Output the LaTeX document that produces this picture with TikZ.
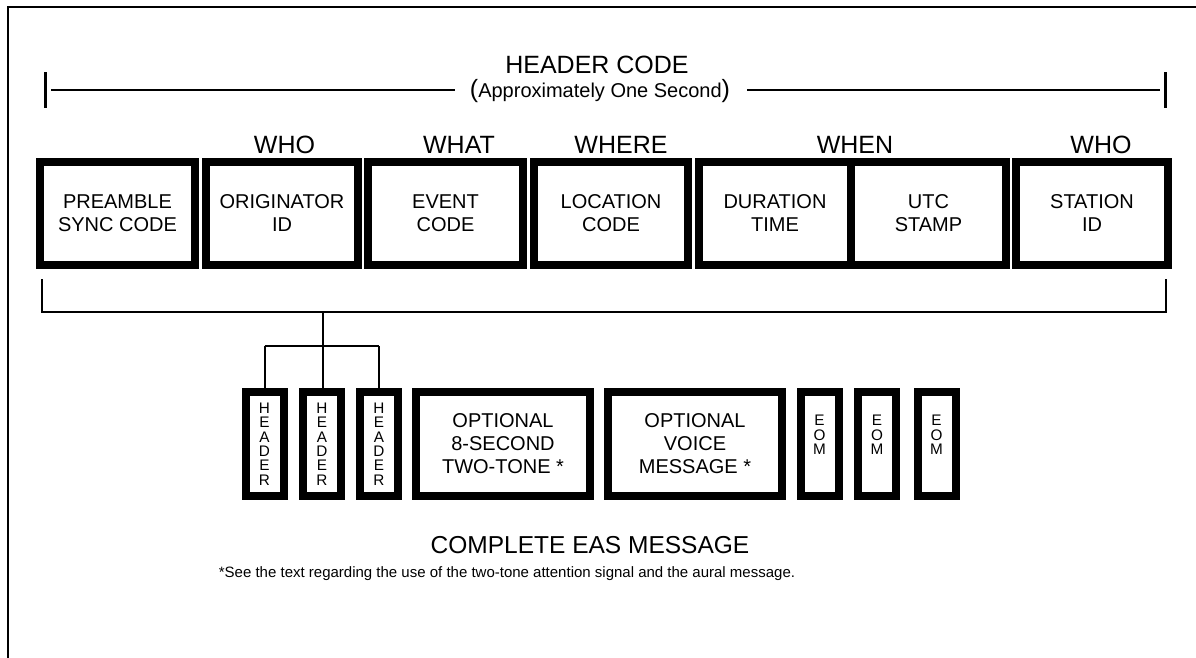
\documentclass[tikz,border=0pt]{standalone}
\usepackage{fontspec}
\setmainfont{Liberation Sans}
\begin{document}
\begin{tikzpicture}[x=1pt,y=-1pt,
  bigbox/.style={draw, line width=8pt, inner sep=0pt, align=center,
    font=\fontsize{20}{23}\selectfont},
  topbox/.style={bigbox, minimum height=103pt},
  lowbox/.style={bigbox, minimum height=104pt},
  slimbox/.style={lowbox, minimum width=38pt},
  vtext/.style={inner sep=0pt, align=center, font=\fontsize{15.3}{14.3}\selectfont},
  biglabel/.style={inner sep=0pt, anchor=base, font=\fontsize{25}{28}\selectfont},
  thin/.style={line width=2pt}]
\useasboundingbox (0,0) rectangle (1196,657);
% frame (right and bottom sides lie outside the picture)
\draw[line width=2.5pt] (8,670) -- (8,7) -- (1210,7);

% header code span
\node[biglabel] (hc) at (597,73) {HEADER CODE};
\node[inner sep=0pt, anchor=base] (approx) at (600,97)
  {\fontsize{25}{28}\selectfont(\fontsize{20}{24}\selectfont Approximately One Second\fontsize{25}{28}\selectfont)};
\coordinate (lt) at (45,90);
\coordinate (rt) at (1165,90);
\draw[line width=3pt] ([yshift=18pt]lt) -- ([yshift=-18pt]lt);
\draw[line width=3pt] ([yshift=18pt]rt) -- ([yshift=-18pt]rt);
\draw[thin] ([xshift=6pt]lt) -- ([xshift=-15pt]approx.west |- lt);
\draw[thin] ([xshift=17pt]approx.east |- rt) -- ([xshift=-5pt]rt);

% top row
\node[topbox, minimum width=155pt] (pre) at (117.5,213.5) {PREAMBLE\\SYNC CODE};
\node[topbox, minimum width=152pt] (orig) at (282,213.5) {ORIGINATOR\\ID};
\node[topbox, minimum width=155pt] (event) at (445.5,213.5) {EVENT\\CODE};
\node[topbox, minimum width=154pt] (loc) at (611,213.5) {LOCATION\\CODE};
\node[topbox, minimum width=152pt] (dur) at (775,213.5) {DURATION\\TIME};
\node[topbox, minimum width=155pt] (utc) at (928.5,213.5) {UTC\\STAMP};
\node[topbox, minimum width=152pt] (stat) at (1092,213.5) {STATION\\ID};

\node[biglabel] (who1) at (284.5,153) {WHO};
\node[biglabel] (what) at (459,153) {WHAT};
\node[biglabel] (where) at (621,153) {WHERE};
\node[biglabel] (when) at (855,153) {WHEN};
\node[biglabel] (who2) at (1101,153) {WHO};

% bracket under the header
\coordinate (bl) at (42,279);
\coordinate (br) at (1166,279);
\coordinate (stem) at (323,312);
\coordinate (fork) at (323,346);
\draw[thin] (bl) -- (42,312) -- (1166,312) -- (br);
\draw[thin] (stem) -- (fork);

% complete message row
\node[slimbox] (h1) at (264.5,444) {};
\node[slimbox] (h2) at (322,444) {};
\node[slimbox] (h3) at (379,444) {};
\node[vtext] (h1t) at (h1.center) {H\\E\\A\\D\\E\\R};
\node[vtext] (h2t) at (h2.center) {H\\E\\A\\D\\E\\R};
\node[vtext] (h3t) at (h3.center) {H\\E\\A\\D\\E\\R};
\node[lowbox, minimum width=174pt] (tone) at (503,444) {OPTIONAL\\8-SECOND\\TWO-TONE *};
\node[lowbox, minimum width=174pt] (voice) at (695,444) {OPTIONAL\\VOICE\\MESSAGE *};
\node[slimbox] (e1) at (819.5,444) {};
\node[slimbox] (e2) at (877,444) {};
\node[slimbox] (e3) at (936.5,444) {};
\node[vtext] (e1t) at ([yshift=9pt]e1.center) {E\\O\\M};
\node[vtext] (e2t) at ([yshift=9pt]e2.center) {E\\O\\M};
\node[vtext] (e3t) at ([yshift=9pt]e3.center) {E\\O\\M};

\draw[thin] (h1.north |- fork) -- (h3.north |- fork);
\draw[thin] (h1.north |- fork) -- (h1.north);
\draw[thin] (fork) -- (fork |- h2.north);
\draw[thin] (h3.north |- fork) -- (h3.north);

\node[inner sep=0pt, anchor=base, font=\fontsize{24.5}{28}\selectfont] (cem) at (590,553) {COMPLETE EAS MESSAGE};
\node[inner sep=0pt, anchor=base, font=\fontsize{15}{18}\selectfont] (note) at (507,577)
  {*See the text regarding the use of the two-tone attention signal and the aural message.};
\end{tikzpicture}
\end{document}
